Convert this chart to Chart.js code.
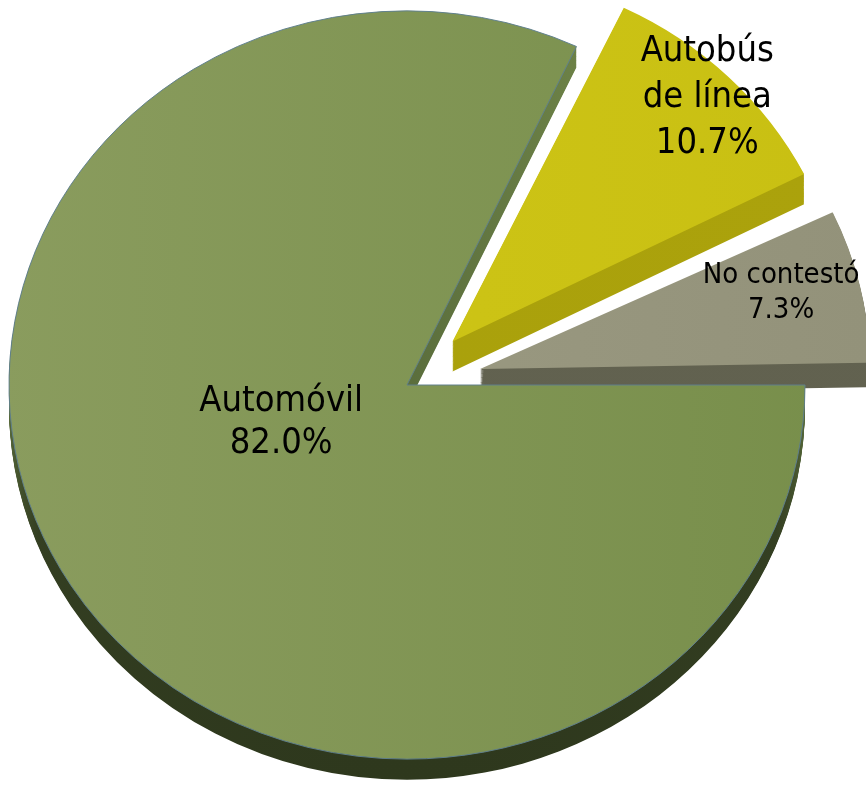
<!DOCTYPE html>
<html>
<head>
<meta charset="utf-8">
<script src="https://cdn.jsdelivr.net/npm/chart.js@4/dist/chart.umd.min.js"></script>
<style>
  html, body { margin: 0; padding: 0; background: #ffffff; }
  #wrap { width: 866px; height: 785px; }
</style>
</head>
<body>
<div id="wrap"><canvas id="c" width="866" height="785"></canvas></div>
<script>
// ---- data ----
const categories = [['Automóvil'], ['Autobús', 'de línea'], ['No contestó']];
const shares = [82.0, 10.7, 7.3];

// ---- styling (kept separate from the data) ----
const explode = [0, 260, 300];            // Chart.js arc offset option
const sliceRadius = [1, 0.99, 0.98];      // relative outer radius of each slice
const faceLeft = ['#8a9c5e', '#d0c718', '#9e9d85'];
const faceRight = ['#778e4a', '#c8bf12', '#929179'];
const borderCols = ['#5f7f8c', 'rgba(0,0,0,0)', 'rgba(0,0,0,0)'];
const borderWidths = [1, 0, 0];
const sideDepth = [22, 32, 26];
const labelFont = [36, 36, 29];
const labelLine = [42, 46, 35];
const labelRadius = [0.332, 1.077, 0.972];
const labelAngle = [14.6, 0, -1.6];
const SY = 0.94;

function faceColor(ctx) {
  const chart = ctx.chart;
  const i = ctx.dataIndex;
  const g = chart.ctx.createLinearGradient(0, 0, chart.width, 0);
  g.addColorStop(0, faceLeft[i]);
  g.addColorStop(1, faceRight[i]);
  return g;
}

function sideColor(chart, i) {
  const g = chart.ctx.createLinearGradient(0, 0, 0, chart.height);
  if (i === 0) {
    g.addColorStop(0, '#6d8247');
    g.addColorStop(0.5, '#5a6d3c');
    g.addColorStop(0.68, '#343f22');
    g.addColorStop(1, '#2e381d');
  } else if (i === 1) {
    g.addColorStop(0, '#aca30c');
    g.addColorStop(1, '#a89f0b');
  } else {
    g.addColorStop(0, '#646452');
    g.addColorStop(1, '#5f5f4d');
  }
  return g;
}

let baseRadius = 0;

const pie3d = {
  id: 'pie3d',
  afterDatasetsUpdate(chart) {
    const meta = chart.getDatasetMeta(0);
    baseRadius = meta.data[0].outerRadius;
    meta.data.forEach((arc, i) => {
      // Chart.js grows exploded arcs by (offset/4)*fix; compensate and apply per-slice radius
      const off = (arc.options.offset || 0) / 4;
      const fix = 1 - Math.sin(Math.min(Math.PI, arc.circumference || 0));
      arc.outerRadius = baseRadius * sliceRadius[i] - off * fix;
    });
  },
  beforeDatasetsDraw(chart) {
    const ctx = chart.ctx;
    const meta = chart.getDatasetMeta(0);
    const a0 = meta.data[0];
    const cx = a0.x, cy = a0.y;
    ctx.save();
    ctx.translate(cx, cy);
    ctx.scale(1, SY);
    ctx.translate(-cx, -cy);
    meta.data.forEach((arc, i) => {
      const o = arc.options;
      arc.options = Object.assign({}, o, {
        backgroundColor: sideColor(chart, i),
        borderWidth: 0,
        borderColor: 'rgba(0,0,0,0)'
      });
      for (let k = sideDepth[i]; k >= 1; k--) {
        ctx.save();
        ctx.translate(0, k);
        arc.draw(ctx);
        ctx.restore();
      }
      arc.options = o;
    });
  },
  afterDatasetsDraw(chart) {
    const ctx = chart.ctx;
    ctx.restore();
    const meta = chart.getDatasetMeta(0);
    meta.data.forEach((arc, i) => {
      const mid = (arc.startAngle + arc.endAngle) / 2 + labelAngle[i] * Math.PI / 180;
      const r = baseRadius * labelRadius[i];
      const px = arc.x + Math.cos(mid) * r;
      const py = arc.y + Math.sin(mid) * r * SY;
      const lines = chart.data.labels[i].concat([shares[i].toFixed(1) + '%']);
      ctx.save();
      ctx.fillStyle = '#000000';
      ctx.textAlign = 'center';
      ctx.textBaseline = 'middle';
      ctx.font = labelFont[i] + 'px "DejaVu Sans Condensed", "Liberation Sans", sans-serif';
      const lh = labelLine[i];
      const top = py - (lines.length - 1) * lh / 2;
      lines.forEach((t, j) => ctx.fillText(t, px, top + j * lh));
      ctx.restore();
    });
  }
};

new Chart(document.getElementById('c'), {
  type: 'pie',
  data: {
    labels: categories,
    datasets: [{
      data: shares,
      backgroundColor: faceColor,
      borderColor: borderCols,
      borderWidth: borderWidths,
      offset: explode,
      clip: false
    }]
  },
  options: {
    responsive: false,
    animation: false,
    rotation: 90,
    radius: 398,
    layout: { padding: { left: 0, right: 52, top: 0, bottom: 15 } },
    plugins: { legend: { display: false }, tooltip: { enabled: false } },
    events: []
  },
  plugins: [pie3d]
});
</script>
</body>
</html>
